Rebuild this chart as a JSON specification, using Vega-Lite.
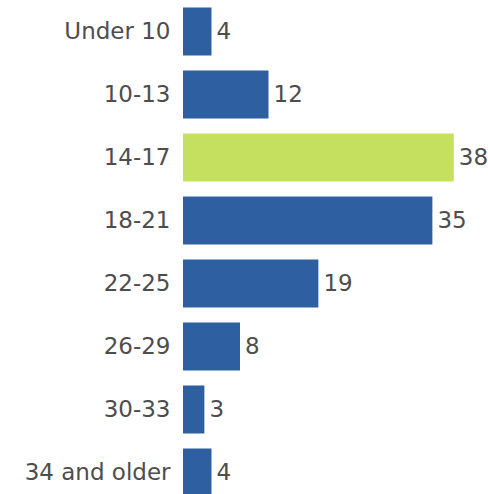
{
  "$schema": "https://vega.github.io/schema/vega-lite/v6.json",
  "autosize": {"type": "none"},
  "padding": {"left": 183, "top": 0, "right": 20, "bottom": 0},
  "width": 285,
  "height": 504,
  "background": "white",
  "config": {"view": {"stroke": null}, "font": "DejaVu Sans"},
  "data": {"values": [
    {"age": "Under 10", "value": 4},
    {"age": "10-13", "value": 12},
    {"age": "14-17", "value": 38},
    {"age": "18-21", "value": 35},
    {"age": "22-25", "value": 19},
    {"age": "26-29", "value": 8},
    {"age": "30-33", "value": 3},
    {"age": "34 and older", "value": 4}
  ]},
  "encoding": {
    "y": {"field": "age", "type": "nominal", "sort": null,
      "scale": {"paddingInner": 0.238, "paddingOuter": 0.119},
      "axis": {"title": null, "ticks": false, "domain": false, "labelPadding": 13, "labelFontSize": 23, "labelColor": "#4d4d4d", "labelFont": "DejaVu Sans"}},
    "x": {"field": "value", "type": "quantitative", "scale": {"domain": [0, 40], "nice": false}, "axis": null}
  },
  "layer": [
    {"mark": {"type": "bar"},
     "encoding": {"color": {"condition": {"test": "datum.age === '14-17'", "value": "#c5df5e"}, "value": "#2e5fa1"}}},
    {"mark": {"type": "text", "align": "left", "baseline": "middle", "dx": 5, "fontSize": 23, "color": "#4d4d4d", "font": "DejaVu Sans"},
     "encoding": {"text": {"field": "value", "type": "quantitative"}}}
  ]
}
